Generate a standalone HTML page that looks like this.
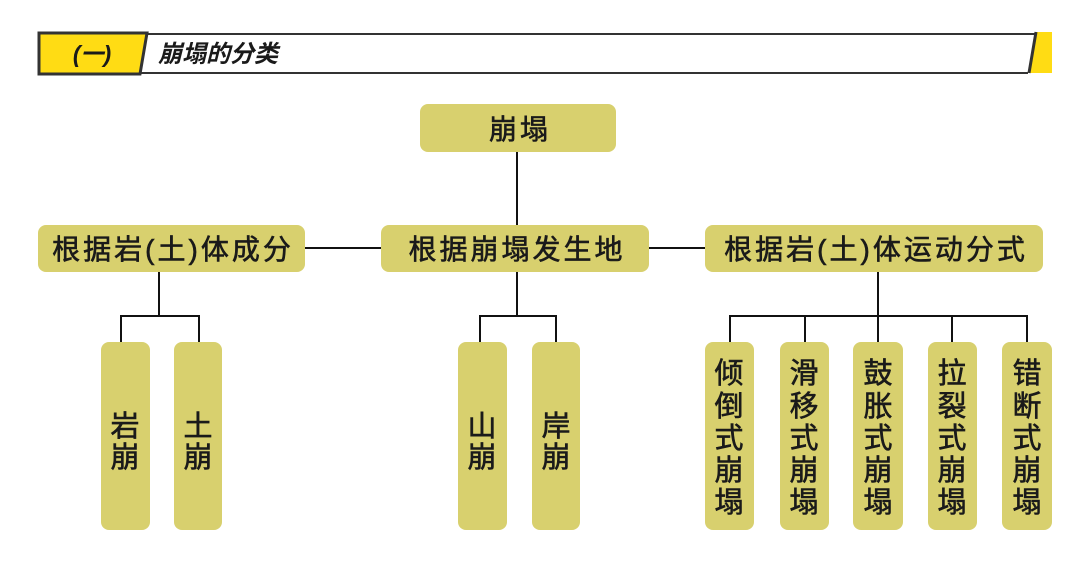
<!DOCTYPE html>
<html><head><meta charset="utf-8"><style>
html,body{margin:0;padding:0;background:#fff;}
svg{display:block;}
text{font-family:"Liberation Sans","Noto Sans CJK SC",sans-serif;fill:#1a1a1a;}
.m{stroke:#1a1a1a;stroke-width:0.6;}
</style></head><body>
<svg width="1088" height="581" viewBox="0 0 1088 581" xmlns="http://www.w3.org/2000/svg">
<!-- header -->
<line x1="145" y1="34" x2="1036" y2="34" stroke="#333" stroke-width="2"/>
<line x1="140" y1="73" x2="1028" y2="73" stroke="#333" stroke-width="2"/>
<polygon points="1036,32 1052,32 1052,73 1028,73" fill="#ffdc14"/>
<line x1="1036" y1="32" x2="1029" y2="73" stroke="#333" stroke-width="3"/>
<polygon points="39,33 147,33 140,74 39,74" fill="#ffdc14" stroke="#333" stroke-width="3"/>
<text x="92" y="62" font-size="23" font-weight="bold" text-anchor="middle" font-style="italic">(一)</text>
<text x="158" y="62" font-size="24" font-weight="bold" font-style="italic">崩塌的分类</text>
<g stroke="#111" stroke-width="2" fill="none">
<line x1="517" y1="152" x2="517" y2="226"/>
<line x1="305" y1="248" x2="381" y2="248"/>
<line x1="649" y1="248" x2="705" y2="248"/>
<line x1="159" y1="272" x2="159" y2="316"/>
<line x1="121" y1="316" x2="199" y2="316"/>
<line x1="121" y1="315" x2="121" y2="343"/>
<line x1="199" y1="315" x2="199" y2="343"/>
<line x1="517" y1="272" x2="517" y2="316"/>
<line x1="480" y1="316" x2="556" y2="316"/>
<line x1="480" y1="315" x2="480" y2="343"/>
<line x1="556" y1="315" x2="556" y2="343"/>
<line x1="878" y1="272" x2="878" y2="316"/>
<line x1="730" y1="316" x2="1027" y2="316"/>
<line x1="730" y1="315" x2="730" y2="343"/>
<line x1="805" y1="315" x2="805" y2="343"/>
<line x1="878" y1="315" x2="878" y2="343"/>
<line x1="952" y1="315" x2="952" y2="343"/>
<line x1="1027" y1="315" x2="1027" y2="343"/>
</g>
<g fill="#d8d06e">
<rect x="420" y="104" width="196" height="48" rx="8"/>
<rect x="38" y="225" width="267" height="47" rx="8"/>
<rect x="381" y="225" width="268" height="47" rx="8"/>
<rect x="705" y="225" width="338" height="47" rx="8"/>
<rect x="101" y="342" width="49" height="188" rx="8"/>
<rect x="174" y="342" width="48" height="188" rx="8"/>
<rect x="458" y="342" width="49" height="188" rx="8"/>
<rect x="532" y="342" width="48" height="188" rx="8"/>
<rect x="705" y="342" width="49" height="188" rx="8"/>
<rect x="780" y="342" width="49" height="188" rx="8"/>
<rect x="853" y="342" width="50" height="188" rx="8"/>
<rect x="928" y="342" width="49" height="188" rx="8"/>
<rect x="1002" y="342" width="50" height="188" rx="8"/>
</g>
<g font-size="28" text-anchor="middle" class="m">
<text x="520" y="139" letter-spacing="3">崩塌</text>
<text x="173" y="259" letter-spacing="3">根据岩(土)体成分</text>
<text x="517" y="259" letter-spacing="3">根据崩塌发生地</text>
<text x="876" y="259" letter-spacing="3">根据岩(土)体运动分式</text>
</g>
<g font-size="29" text-anchor="middle" class="m">
<text x="125" y="436">岩</text><text x="125" y="467">崩</text>
<text x="198" y="436">土</text><text x="198" y="467">崩</text>
<text x="482" y="436">山</text><text x="482" y="467">崩</text>
<text x="556" y="436">岸</text><text x="556" y="467">崩</text>
</g>
<g font-size="29" text-anchor="middle" class="m">
<text x="729" y="383">倾</text><text x="729" y="416">倒</text><text x="729" y="448">式</text><text x="729" y="480">崩</text><text x="729" y="512">塌</text>
<text x="804" y="383">滑</text><text x="804" y="416">移</text><text x="804" y="448">式</text><text x="804" y="480">崩</text><text x="804" y="512">塌</text>
<text x="878" y="383">鼓</text><text x="878" y="416">胀</text><text x="878" y="448">式</text><text x="878" y="480">崩</text><text x="878" y="512">塌</text>
<text x="952" y="383">拉</text><text x="952" y="416">裂</text><text x="952" y="448">式</text><text x="952" y="480">崩</text><text x="952" y="512">塌</text>
<text x="1027" y="383">错</text><text x="1027" y="416">断</text><text x="1027" y="448">式</text><text x="1027" y="480">崩</text><text x="1027" y="512">塌</text>
</g>
</svg>
</body></html>
